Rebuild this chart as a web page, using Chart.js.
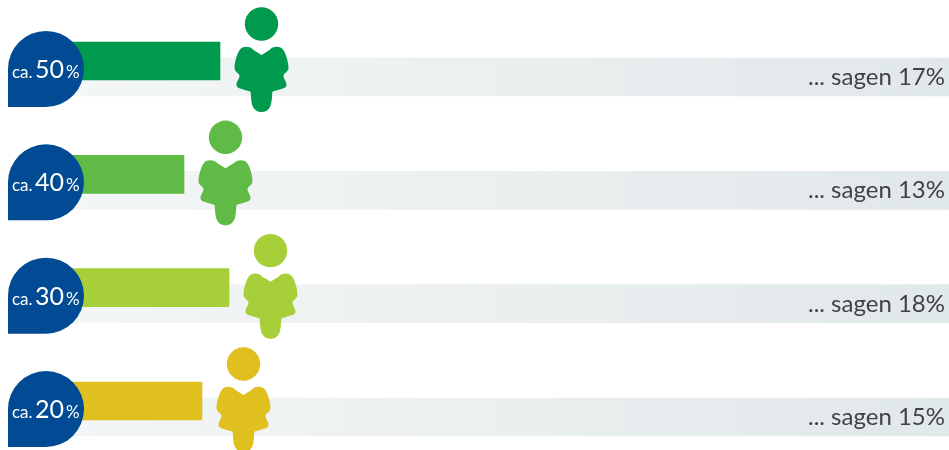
<!DOCTYPE html>
<html lang="de">
<head>
<meta charset="utf-8">
<title>sagen</title>
<script src="https://cdn.jsdelivr.net/npm/chart.js@4"></script>
<style>
    html, body { margin: 0; padding: 0; background: #ffffff; }
    canvas { display: block; }
</style>
</head>
<body>
<canvas id="sagenChart" width="949" height="450"></canvas>
<script>
const rows = [0, 1, 2, 3];
const shareLabels = ['50', '40', '30', '20'];
const sagenValues = [17, 13, 18, 15];
const rowColors = ['#009a4e', '#5fbb46', '#a7cf3a', '#dfc01f'];

const BLUE = '#004b93';
const FONT = 'Lato';

// one half of the body, drawn twice and mirrored. Relative to body axis and band centre
const bodyHalf = (ctx) => {
    ctx.beginPath();
    ctx.moveTo(0.5, -22);
    ctx.lineTo(0, -22);
    ctx.lineTo(-8, -27);
    ctx.bezierCurveTo(-11, -30.5, -16, -31, -20, -29);
    ctx.bezierCurveTo(-24, -26, -27, -15, -27, -9);
    ctx.bezierCurveTo(-27, -5, -22, -4, -22, -1);
    ctx.bezierCurveTo(-22, 2, -25, 4, -25, 8);
    ctx.bezierCurveTo(-25, 11, -21, 11.5, -18, 12.5);
    ctx.bezierCurveTo(-15, 13.5, -12, 14, -10.8, 15);
    ctx.bezierCurveTo(-10.5, 22, -10, 27, -8.5, 30);
    ctx.bezierCurveTo(-7, 33, -4, 35, 0, 35);
    ctx.lineTo(0.5, 35);
    ctx.closePath();
    ctx.fill();
};

const drawPerson = (ctx, cx, bandY, color) => {
    ctx.save();
    ctx.translate(cx, bandY);
    ctx.fillStyle = color;

    ctx.beginPath();
    ctx.arc(0, -53, 16.7, 0, Math.PI * 2);
    ctx.fill();

    bodyHalf(ctx);
    ctx.scale(-1, 1);
    bodyHalf(ctx);
    ctx.restore();
};

const drawBubble = (ctx, bandY, share) => {
    const cx = 46;
    const cy = bandY - 8;
    const r = 38;

    ctx.save();
    ctx.fillStyle = BLUE;
    ctx.beginPath();
    ctx.arc(cx, cy, r, Math.PI, Math.PI / 2, false);
    ctx.lineTo(cx - r, cy + r);
    ctx.closePath();
    ctx.fill();

    ctx.fillStyle = '#ffffff';
    ctx.textBaseline = 'alphabetic';
    ctx.textAlign = 'left';
    const base = cy + 9;
    ctx.font = `17px ${FONT}`;
    ctx.fillText('ca.', 12, base);
    ctx.font = `25px ${FONT}`;
    ctx.fillText(share, 35, base);
    ctx.font = `17px ${FONT}`;
    ctx.fillText('%', 66, base);
    ctx.restore();
};

const overlayPlugin = {
    id: 'overlay',
    afterDatasetsDraw(chart) {
        const { ctx, scales } = chart;
        rows.forEach((row, i) => {
            const bandY = scales.yBand.getPixelForValue(row);
            drawPerson(ctx, scales.x.getPixelForValue(sagenValues[i]) + 41.5, bandY, rowColors[i]);
            drawBubble(ctx, bandY, shareLabels[i]);

            ctx.save();
            ctx.fillStyle = '#3f4345';
            ctx.font = `24px ${FONT}`;
            ctx.textAlign = 'right';
            ctx.textBaseline = 'alphabetic';
            ctx.fillText(`... sagen ${sagenValues[i]}%`, 945, bandY + 8);
            ctx.restore();
        });
    }
};

const bandGradient = (context) => {
    const gradient = context.chart.ctx.createLinearGradient(8, 0, 949, 0);
    gradient.addColorStop(0, '#f5f7f8');
    gradient.addColorStop(1, '#e1e8e9');
    return gradient;
};

new Chart(document.getElementById('sagenChart'), {
    type: 'bar',
    data: {
        datasets: [{
            label: 'Balken',
            data: rows.map((row, i) => ({ x: [0, sagenValues[i]], y: row })),
            backgroundColor: rowColors,
            yAxisID: 'yBar',
            order: 1
        }, {
            label: 'Band',
            data: rows.map(row => ({ x: [-6.556, 98], y: row })),
            backgroundColor: bandGradient,
            yAxisID: 'yBand',
            order: 2
        }]
    },
    plugins: [overlayPlugin],
    options: {
        indexAxis: 'y',
        responsive: false,
        animation: false,
        grouped: false,
        barThickness: 38,
        borderWidth: 0,
        layout: { padding: 0 },
        plugins: {
            legend: { display: false },
            title: { display: false },
            tooltip: { enabled: false }
        },
        scales: {
            x: { type: 'linear', display: false, offset: false, min: -7.444, max: 98 },
            yBar: { type: 'linear', axis: 'y', display: false, offset: false, reverse: true, min: -0.538, max: 3.432 },
            yBand: { type: 'linear', axis: 'y', display: false, offset: false, reverse: true, min: -0.679, max: 3.291 }
        }
    }
});
</script>
</body>
</html>
